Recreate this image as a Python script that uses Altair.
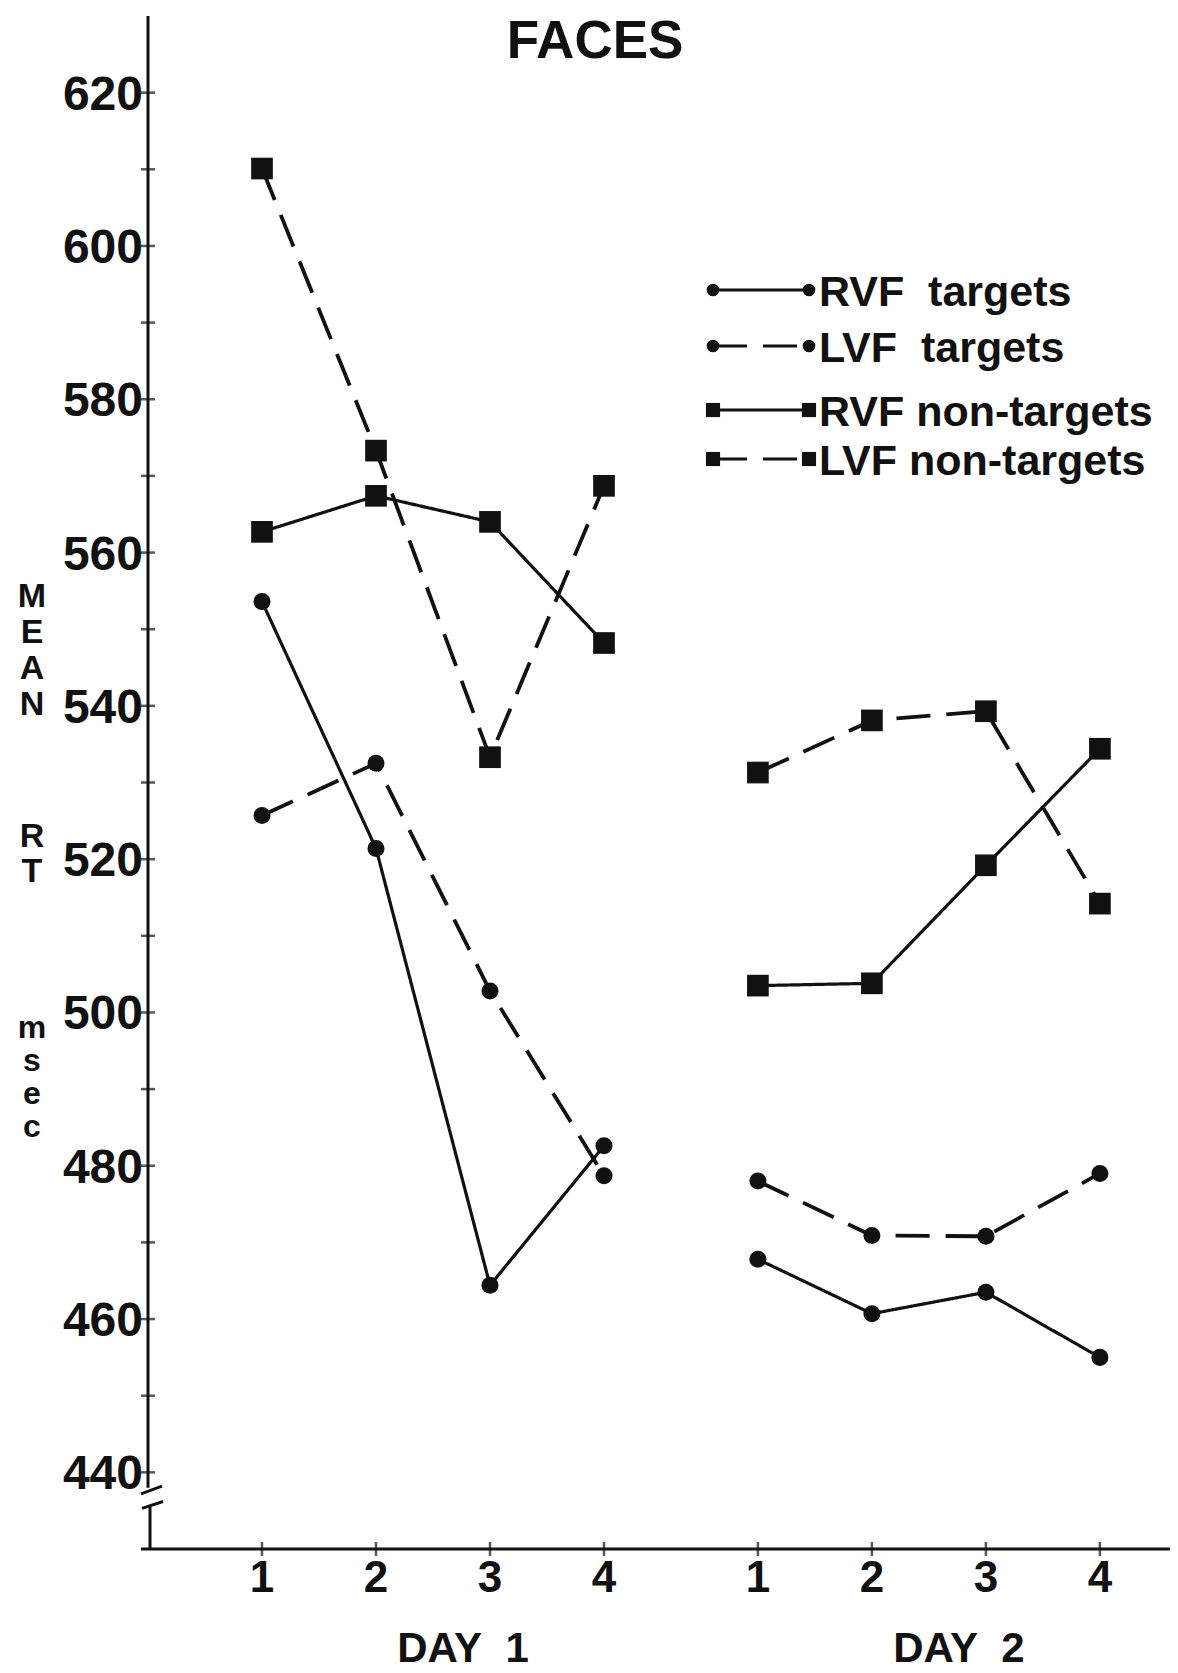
import altair as alt
import pandas as pd

# ---- data -----------------------------------------------------------------
# Trial numbers along the x axis: four per day, day 2 placed after a wider gap
trial_labels = ["1", "2", "3", "4", "1", "2", "3", "4"]
trial_days = ["DAY\u00a0 1"] * 4 + ["DAY\u00a0 2"] * 4
trial_x = [1, 2, 3, 4, 5.35, 6.35, 7.35, 8.35]

# Mean reaction times in msec, one value per trial
rvf_targets = [553.6, 521.4, 464.4, 482.6, 467.8, 460.7, 463.5, 455.0]
lvf_targets = [525.7, 532.5, 502.8, 478.7, 478.0, 470.9, 470.8, 479.0]
rvf_nontargets = [562.7, 567.4, 564.0, 548.2, 503.5, 503.8, 519.2, 534.4]
lvf_nontargets = [610.1, 573.3, 533.3, 568.7, 531.3, 538.1, 539.3, 514.2]

series_names = ["RVF\u00a0 targets", "LVF\u00a0 targets", "RVF non-targets", "LVF non-targets"]
series_values = [rvf_targets, lvf_targets, rvf_nontargets, lvf_nontargets]
series_style = ["solid", "dashed", "solid", "dashed"]
series_marker = ["circle", "circle", "square", "square"]

y_label_values = list(range(440, 621, 20))
y_tick_values = list(range(440, 621, 10))

# ---- styling ----------------------------------------------------------------
INK = "#111111"
FONT = "Liberation Sans"
W, H = 1026, 1533

rows = []
for name, vals, style, marker in zip(series_names, series_values, series_style, series_marker):
    for x, day, trial, v in zip(trial_x, trial_days, trial_labels, vals):
        rows.append({"series": name, "style": style, "marker": marker, "day": day,
                     "segment": f"{name}|{day}", "x": x, "trial": trial, "rt": v})
df = pd.DataFrame(rows)

trials_df = pd.DataFrame({"x": trial_x, "trial": trial_labels, "day": trial_days})
days_df = trials_df.groupby("day", as_index=False)["x"].mean()
ylab_df = pd.DataFrame({"rt": y_label_values})

x_scale = alt.Scale(domain=[0, 9], nice=False, zero=False)
y_scale = alt.Scale(domain=[430, 630], nice=False, zero=False)
x_enc = alt.X("x:Q", scale=x_scale, axis=None)
y_enc = alt.Y("rt:Q", scale=y_scale, axis=None)

dash_scale = alt.Scale(domain=["solid", "dashed"], range=[[1, 0], [34, 16]])
width_scale = alt.Scale(domain=["solid", "dashed"], range=[3.2, 3.8])
shape_scale = alt.Scale(domain=["circle", "square"], range=["circle", "square"])
size_scale = alt.Scale(domain=["circle", "square"], range=[290, 470])

lines = alt.Chart(df).mark_line(color=INK).encode(
    x=x_enc, y=y_enc, detail="segment:N", order="x:Q",
    strokeDash=alt.StrokeDash("style:N", scale=dash_scale, legend=None),
    strokeWidth=alt.StrokeWidth("style:N", scale=width_scale, legend=None),
)
points = alt.Chart(df).mark_point(filled=True, color=INK, opacity=1).encode(
    x=x_enc, y=y_enc,
    shape=alt.Shape("marker:N", scale=shape_scale, legend=None),
    size=alt.Size("marker:N", scale=size_scale, legend=None),
)

# axes drawn by hand: broken y axis line, crossing ticks, tick labels
def one_row():
    return pd.DataFrame({"a": [0]})

y_axis_upper = alt.Chart(one_row()).mark_rule(color=INK, strokeWidth=3).encode(
    x=alt.value(0), y=alt.Y(datum=630, scale=y_scale, axis=None), y2=alt.datum(438.0))
y_axis_lower = alt.Chart(one_row()).mark_rule(color=INK, strokeWidth=3).encode(
    x=alt.value(2), y=alt.Y(datum=435.7, scale=y_scale, axis=None), y2=alt.datum(430))
slash_a = alt.Chart(one_row()).mark_rule(color=INK, strokeWidth=3).encode(
    x=alt.value(-7), x2=alt.value(14), y=alt.Y(datum=437.2, scale=y_scale, axis=None), y2=alt.datum(438.2))
slash_b = alt.Chart(one_row()).mark_rule(color=INK, strokeWidth=3).encode(
    x=alt.value(-6), x2=alt.value(15), y=alt.Y(datum=435.3, scale=y_scale, axis=None), y2=alt.datum(436.2))
x_axis = alt.Chart(one_row()).mark_rule(color=INK, strokeWidth=3).encode(
    x=alt.value(-7), x2=alt.value(W - 4), y=alt.value(H))

y_ticks = alt.Chart(pd.DataFrame({"rt": y_tick_values})).mark_tick(
    color=INK, thickness=2.5, size=14).encode(y=y_enc, x=alt.value(0))
x_ticks = alt.Chart(trials_df).mark_tick(
    color=INK, thickness=2.5, size=14).encode(x=x_enc, y=alt.value(H))

y_labels = alt.Chart(ylab_df).mark_text(
    font=FONT, fontSize=48, fontWeight="bold", color=INK, align="right",
    baseline="middle", dy=3).encode(
    y=y_enc, x=alt.value(-5), text=alt.Text("rt:Q", format="d"))
x_labels = alt.Chart(trials_df).mark_text(
    font=FONT, fontSize=44, fontWeight="bold", color=INK, baseline="middle").encode(
    x=x_enc, y=alt.value(H + 30), text="trial:N")
day_text = alt.Chart(days_df).mark_text(
    font=FONT, fontSize=42, fontWeight="bold", color=INK, baseline="middle", dx=30).encode(
    x=x_enc, y=alt.value(H + 100), text="day:N")

title = alt.Chart(one_row()).mark_text(
    text="FACES", font=FONT, fontSize=53, fontWeight="bold", color=INK, baseline="middle").encode(
    x=alt.value(447), y=alt.value(26))

# stacked y-axis title, one letter per line
ytitle_layers = []
for letters, top, lh, fs in [(["M", "E", "A", "N"], 564, 36, 34), (["R", "T"], 804, 35, 34),
                             (["m", "s", "e", "c"], 997, 33, 32)]:
    ytitle_layers.append(alt.Chart(one_row()).mark_text(
        text=letters, font=FONT, fontSize=fs, fontWeight="bold", color=INK,
        baseline="top", align="center", lineHeight=lh).encode(
        x=alt.value(-116), y=alt.value(top)))

# legend: line sample with end markers, then label
legend_layers = []
legend_rows_y = [274, 330, 394, 443]
for name, style, marker, ry in zip(series_names, series_style, series_marker, legend_rows_y):
    one = pd.DataFrame({"label": [name], "style": [style]})
    legend_layers.append(alt.Chart(one).mark_rule(color=INK, strokeWidth=3).encode(
        x=alt.value(565), x2=alt.value(661), y=alt.value(ry),
        strokeDash=alt.StrokeDash("style:N", scale=alt.Scale(domain=["solid", "dashed"],
                                                              range=[[1, 0], [20, 12]]), legend=None)))
    for px in (565, 661):
        legend_layers.append(alt.Chart(one).mark_point(
            filled=True, color=INK, opacity=1, shape=marker,
            size=160 if marker == "circle" else 200).encode(x=alt.value(px), y=alt.value(ry)))
    legend_layers.append(alt.Chart(one).mark_text(
        font=FONT, fontSize=43, fontWeight="bold", color=INK, align="left", baseline="middle").encode(
        x=alt.value(671), y=alt.value(ry + 3), text="label:N"))

chart = alt.layer(
    lines, points, y_axis_upper, y_axis_lower, slash_a, slash_b, x_axis, y_ticks, x_ticks,
    y_labels, x_labels, day_text, title, *ytitle_layers, *legend_layers,
).properties(
    width=W, height=H,
    autosize=alt.AutoSizeParams(type="none"),
    padding={"left": 148, "top": 16, "right": 4, "bottom": 124},
    background="white",
).configure_view(stroke=None)

chart.save("out.html", embed_options={"renderer": "svg", "actions": False})
